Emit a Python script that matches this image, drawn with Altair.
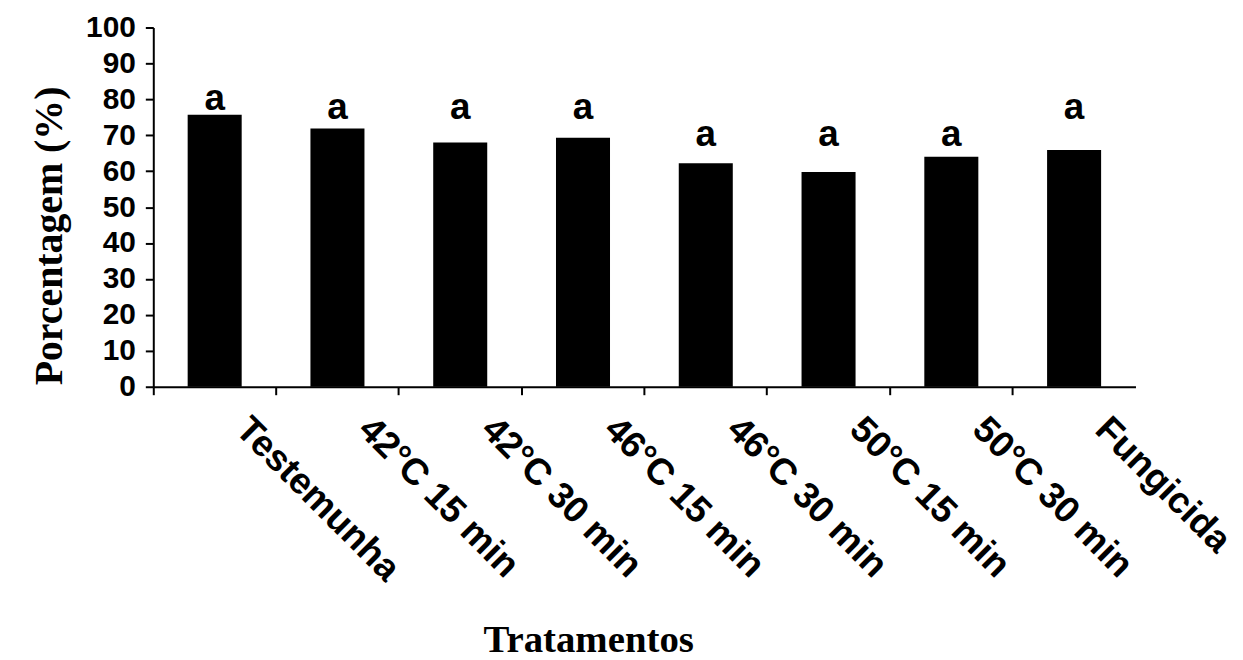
import altair as alt
import pandas as pd

categories = ["Testemunha", "42°C 15 min", "42°C 30 min", "46°C 15 min",
              "46°C 30 min", "50°C 15 min", "50°C 30 min", "Fungicida"]
values = [75.7, 71.9, 68.0, 69.3, 62.2, 59.8, 64.0, 65.9]
letters = ["a", "a", "a", "a", "a", "a", "a", "a"]
letter_y = [77.1, 74.6, 74.6, 74.6, 67.0, 67.0, 67.0, 74.6]
y_ticks = list(range(0, 101, 10))

df = pd.DataFrame({"cat": categories, "val": values, "lab": letters, "ly": letter_y})

x_axis = alt.Axis(
    title="Tratamentos", bandPosition=0,
    labelAngle=45, labelAlign="left", labelBaseline="top",
    labelFont="Liberation Sans", labelFontWeight="bold", labelFontSize=37,
    labelColor="black", labelOffset=40, labelPadding=16,
    labelOverlap=False, labelBound=False, labelFlush=False, labelLimit=0,
    tickSize=8, tickWidth=2, tickColor="black",
    domainColor="black", domainWidth=2,
    titleFont="Liberation Serif", titleFontWeight="bold", titleFontSize=39,
    titleColor="black", titleX=437, titleY=266, titleAlign="center",
    titleBaseline="alphabetic",
)

y_axis = alt.Axis(
    title="Porcentagem (%)", values=y_ticks, tickCount=11, grid=False,
    labelOverlap=False, labelFlush=False, labelBound=False,
    labelFont="Liberation Sans", labelFontWeight="bold", labelFontSize=30,
    labelColor="black", labelPadding=10,
    tickSize=8, tickWidth=2, tickColor="black",
    domainColor="black", domainWidth=2,
    titleFont="Liberation Serif", titleFontWeight="bold", titleFontSize=40,
    titleColor="black", titleAngle=270, titleX=-104, titleY=209,
    titleAlign="center", titleBaseline="middle",
)

x_scale = alt.Scale(paddingInner=0, paddingOuter=0)
y_scale = alt.Scale(domain=[0, 100], nice=False)

bars = alt.Chart(df).mark_bar(color="black", width=alt.RelativeBandSize(0.44)).encode(
    x=alt.X("cat:N", sort=categories, scale=x_scale, axis=x_axis),
    y=alt.Y("val:Q", scale=y_scale, axis=y_axis),
)

text = alt.Chart(df).mark_text(
    font="Liberation Sans", fontWeight="bold", fontSize=37, color="black",
    baseline="alphabetic", align="center",
).encode(
    x=alt.X("cat:N", sort=categories, scale=x_scale, axis=x_axis),
    y=alt.Y("ly:Q", scale=y_scale, axis=y_axis),
    text="lab:N",
)

chart = alt.layer(bars, text).properties(
    width=987, height=361,
    autosize="none",
    background="white",
    padding={"left": 146, "top": 18, "right": 100, "bottom": 272},
).configure_view(strokeWidth=0, stroke="transparent")

chart.save("out.html", embed_options={"renderer": "svg", "actions": False})
